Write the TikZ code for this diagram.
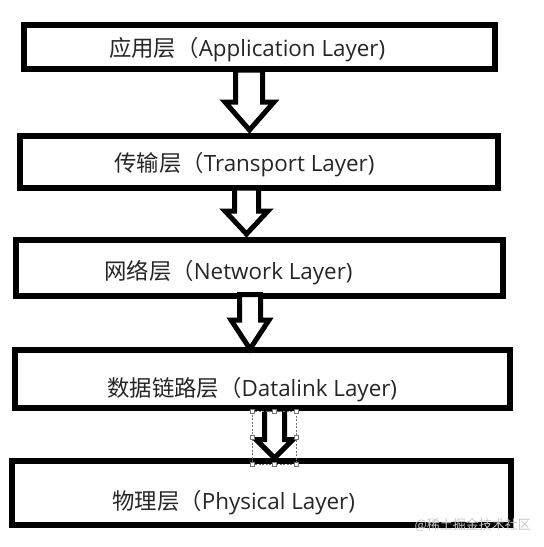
\documentclass[tikz,border=0pt]{standalone}
\usepackage{fontspec}
\setmainfont{Open Sans}
\newfontfamily\cjk{Noto Sans CJK SC}
\begin{document}
\begin{tikzpicture}[x=1pt,y=-1pt,
  layer/.style={draw=black, line width=6pt, fill=white, rectangle, inner sep=0pt},
  txt/.style={anchor=base west, inner sep=0pt, text=black!85, font=\fontsize{22.4}{26}\selectfont},
  barrow/.style={draw=black, line width=5pt, fill=white, line join=miter, miter limit=10},
  handle/.style={draw=black!55, fill=white, line width=0.6pt, minimum size=4pt, inner sep=0pt, rectangle},
  sel/.style={draw=black!55, line width=0.6pt, dash pattern=on 2pt off 1.5pt}]
\useasboundingbox (0,0) rectangle (544,547);
\fill[white] (0,0) rectangle (544,547);
% layer boxes
\node[layer, minimum width=471pt, minimum height=44pt] (b1) at (259.5,47) {};
\node[layer, minimum width=478pt, minimum height=52pt] (b2) at (259,162) {};
\node[layer, minimum width=487pt, minimum height=56pt] (b3) at (259.5,268) {};
\node[layer, minimum width=495pt, minimum height=58pt] (b4) at (262.5,379) {};
\node[layer, minimum width=499pt, minimum height=64pt] (b5) at (261.5,493) {};
% texts
\node[txt] (t1) at (109,56) {{\cjk 应用层（}Application Layer)};
\node[txt] (t2) at (114,171) {{\cjk 传输层（}Transport Layer)};
\node[txt] (t3) at (104,279) {{\cjk 网络层（}Network Layer)};
\node[txt] (t4) at (107,396) {{\cjk 数据链路层（}Datalink Layer)};
\node[txt] (t5) at (112,509) {{\cjk 物理层（}Physical Layer)};
% block arrows
\draw[barrow] (235.5,70) -- (235.5,102) -- (225,102) -- (249.5,130) -- (274,102) -- (262.5,102) -- (262.5,70) -- cycle;
\draw[barrow] (234.5,188) -- (234.5,211) -- (225,211) -- (246.5,234) -- (268,211) -- (258.5,211) -- (258.5,188) -- cycle;
\draw[barrow] (239.5,294.5) -- (239.5,320) -- (231,320) -- (250,349) -- (269,320) -- (260.5,320) -- (260.5,294.5) -- cycle;
\draw[barrow] (264.5,409) -- (264.5,439.5) -- (256,439.5) -- (274.5,458) -- (293,439.5) -- (284.5,439.5) -- (284.5,409) -- cycle;
% selection frame on last arrow
\draw[sel] (252,411) rectangle (296,464);
\foreach \hx/\hy/\hn in {252/411/h1,274/411/h2,296/411/h3,252/437.5/h4,296/437.5/h5,252/464/h6,274/464/h7,296/464/h8}
  \node[handle] (\hn) at (\hx,\hy) {};
% watermark
\node[anchor=east, inner sep=0pt, font=\cjk\fontsize{13}{15}\selectfont, text=black!22] (wm) at (531,525) {@稀土掘金技术社区};
\end{tikzpicture}
\end{document}
